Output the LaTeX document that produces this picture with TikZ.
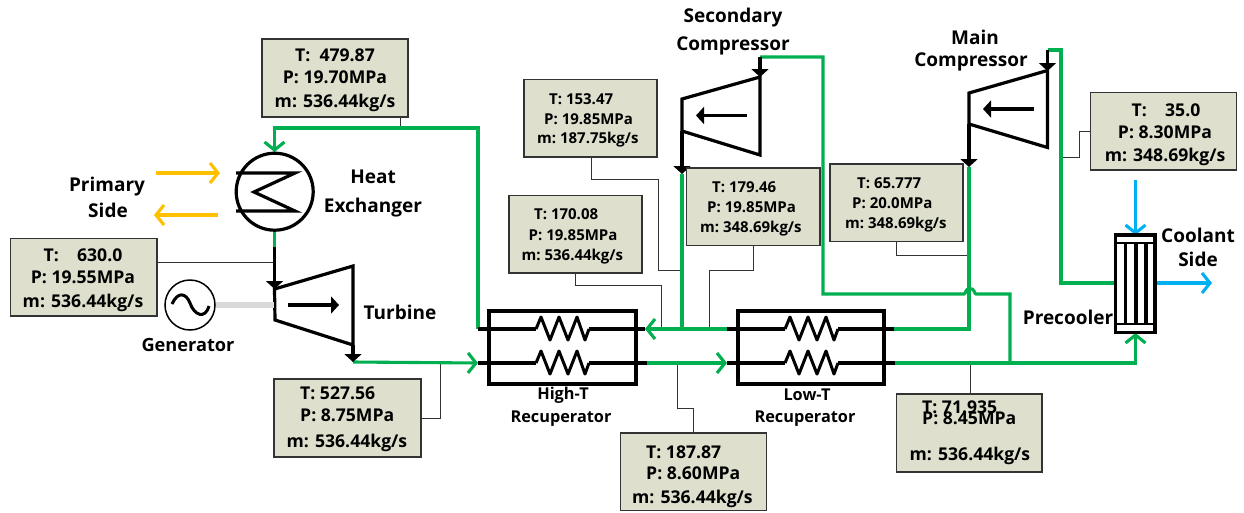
\documentclass[tikz,border=0pt]{standalone}
\usepackage{fontspec}
\setmainfont{Open Sans}
\usetikzlibrary{arrows.meta}
\definecolor{pipegreen}{HTML}{00B050}
\definecolor{hotyellow}{HTML}{FFC000}
\definecolor{coolblue}{HTML}{00B0F0}
\definecolor{boxfill}{HTML}{DEE0CD}
\definecolor{leadgray}{HTML}{333333}
\tikzset{
  green pipe/.style={draw=pipegreen,line width=3.1pt,line join=miter},
  black pipe/.style={draw=black,line width=3.2pt,line join=miter},
  leader/.style={draw=leadgray,line width=1pt},
  statebox/.style={draw=leadgray,fill=boxfill,line width=1.2pt,inner sep=0pt,outer sep=0pt},
  biglabel/.style={font=\fontsize{19}{19}\selectfont\bfseries,inner sep=0pt},
  genlabel/.style={font=\fontsize{18.2}{18}\selectfont\bfseries,inner sep=0pt},
  midlabel/.style={font=\fontsize{16.3}{16}\selectfont\bfseries,inner sep=0pt},
  bigval/.style={font=\fontsize{17.6}{17}\selectfont\bfseries,inner sep=0pt},
  smallval/.style={font=\fontsize{15}{15}\selectfont\bfseries,inner sep=0pt},
  barb/.style={-{Straight Barb[length=8pt,width=20pt,line width=3.1pt]}},
  blackhead/.style={-{Triangle[length=8pt,width=17pt]}},
}
\newcommand{\stbox}[5]{\node[statebox,minimum width=#4pt-#2pt,minimum height=#5pt-#3pt] (#1) at ({(#2+#4)/2},{(#3+#5)/2}) {};}
\newcommand{\zigzag}[3]{% name, x start, y
  \draw[black pipe,line width=3pt,line join=round] (#2,#3) -- ++(5,-12) -- ++(9,23) -- ++(9,-23) -- ++(9,23) -- ++(9,-23) -- ++(8,23) -- ++(4,-11);
}
\begin{document}
\begin{tikzpicture}[x=1pt,y=-1pt]
\useasboundingbox (0,0) rectangle (1244,512);
\fill[white] (0,0) rectangle (1244,512);

% junction points
\coordinate (hxin) at (274.5,128);
\coordinate (hxtop) at (274.5,152);
\coordinate (hxbot) at (274.5,231);
\coordinate (tbinpipe) at (274.5,247);
\coordinate (tbin) at (274.5,289);
\coordinate (tbout) at (353,345);
\coordinate (tboutend) at (353,362);
\coordinate (htoutA) at (478,329);
\coordinate (htinB) at (478,363);
\coordinate (htrightA) at (645,329);
\coordinate (htrightB) at (647,363);
\coordinate (ltleftA) at (727,329);
\coordinate (ltleftB) at (727,363);
\coordinate (ltrightA) at (894,329);
\coordinate (ltrightB) at (895,363);
\coordinate (scoutJ) at (682,329);
\coordinate (mcoutJ) at (969,329);
\coordinate (scdel) at (760,57);
\coordinate (mcdel) at (1047.5,50);
\coordinate (pcin) at (1115.5,283);
\coordinate (pcout) at (1155,283);
\coordinate (pcbot) at (1135.5,333);
\coordinate (pctop) at (1135.5,235);
\coordinate (teeB) at (1010,363);

% leaders
\draw[leader] (400,117) -- (400,128);
\draw[leader] (157,262) -- (274,262);
\draw[leader] (591,157) |- (658.7,179.5) -- (658.7,270) -- (682,270);
\draw[leader] (575.7,273) |- (661,285) -- (661,329);
\draw[leader] (753,245.5) |- (709,270) -- (709,329);
\draw[leader] (896,242) |- (969,255);
\draw[leader] (1091,131) -| (1079,157) -- (1061,157);
\draw[leader] (440,363) |- (421,418);
\draw[leader] (677,363) |- (693.7,408) -- (693.7,433);
\draw[leader] (970,363) -- (970,394);

% green pipes
\draw[green pipe] (htoutA) -- (478,128) -- (hxin) -- (274.5,145);
\draw[green pipe,barb] (274.5,135) -- (hxtop);
\draw[green pipe] (hxbot) -- (tbinpipe);
\draw[green pipe,barb] (tboutend) -- (htinB);
\draw[green pipe,barb] (htrightB) -- (ltleftB);
\draw[green pipe,barb] (ltleftA) -- (htrightA);
\draw[green pipe] (ltrightA) -- (mcoutJ) -- (969,167);
\draw[green pipe] (scoutJ) -- (682,174);
\draw[green pipe] (ltrightB) -- (1135.5,363) -- (1135.5,345);
\draw[green pipe,barb] (1135.5,363) -- (pcbot);
\draw[green pipe] (scdel) -- (823,57) -- (823,294) -- (964,294) .. controls (966,294) and (965,288.5) .. (970,288.5) .. controls (975,288.5) and (974,294) .. (976,294) -- (1010,294) -- (teeB);
\draw[green pipe] (mcdel) -- (1061,50) -- (1061,283) -- (pcin);

% blue and yellow streams
\draw[draw=coolblue,line width=3.1pt,barb] (1135.5,180) -- (pctop);
\draw[draw=coolblue,line width=3.1pt,barb] (pcout) -- (1212,283);
\draw[draw=hotyellow,line width=3.1pt,barb] (156,173) -- (220,173);
\draw[draw=hotyellow,line width=3.1pt,barb] (218,215) -- (154,215);

% heat exchanger
\node[circle,draw=black,line width=3.2pt,minimum size=77pt,inner sep=0pt,outer sep=0pt] (hx) at (274.7,191.7) {};
\draw[black pipe] (236,173) -- (295,173) -- (254,192) -- (295,211) -- (236,211);

% turbine
\draw[black pipe] (tbin) -- (353,266) -- (353,345) -- (275,320) -- cycle;
\draw[black pipe,blackhead] (tbinpipe) -- (tbin);
\draw[black pipe,blackhead] (tbout) -- (tboutend);
\draw[black pipe,blackhead] (288,305) -- (339,305);

% generator
\draw[draw=black!15,line width=6pt] (216,305) -- (274,305);
\node[circle,draw=black,line width=1.5pt,fill=white,minimum size=50pt,inner sep=0pt] (gen) at (190,305) {};
\draw[black,line width=3pt] (172,304) .. controls (178,291) and (186,293) .. (190,303) .. controls (194,315) and (205,320) .. (209,306);

% recuperators
\draw[black pipe] (489,311) rectangle (636,384);
\draw[black pipe] (738,311) rectangle (884,384);
\draw[black pipe] (htoutA) -- (536,329); \draw[black pipe] (589,329) -- (htrightA);
\draw[black pipe] (htinB) -- (536,363); \draw[black pipe] (589,363) -- (htrightB);
\draw[black pipe] (ltleftA) -- (785,329); \draw[black pipe] (838,329) -- (ltrightA);
\draw[black pipe] (ltleftB) -- (785,363); \draw[black pipe] (838,363) -- (ltrightB);
\zigzag{a}{536}{329}
\zigzag{b}{536}{363}
\zigzag{c}{785}{329}
\zigzag{d}{785}{363}

% compressors
\draw[black pipe] (682,99) -- (760,77) -- (760,155) -- (682,131) -- cycle;
\draw[black pipe,blackhead] (scdel) -- (760,77);
\draw[black pipe,blackhead] (682,131) -- (682,174);
\draw[black pipe,blackhead] (747,115.5) -- (696,115.5);
\draw[black pipe] (969,93) -- (1047.5,70.5) -- (1047.5,147.5) -- (969,124) -- cycle;
\draw[black pipe,blackhead] (mcdel) -- (1047.5,71);
\draw[black pipe,blackhead] (969,124) -- (969,167);
\draw[black pipe,blackhead] (1034,109) -- (983,109);

% precooler
\draw[black pipe,line width=1.5pt] (1116,243) -- (1155,243) (1116,324) -- (1155,324);
\draw[black pipe] (1125.7,243) -- (1125.7,324) (1136,243) -- (1136,324) (1146,243) -- (1146,324);
\draw[black pipe] (1115.7,235) rectangle (1155,332.7);

% state boxes
\stbox{b1}{262}{39}{408}{117}
\node[bigval] (b1t) at (335,55) {T:\ \ 479.87};
\node[bigval] (b1p) at (335,77) {P: 19.70MPa};
\node[bigval] (b1m) at (335,103) {m: 536.44kg/s};

\stbox{b2}{10.5}{238.5}{157}{316}
\node[bigval] (b2t) at (83,255) {T:\ \ \ \ 630.0};
\node[bigval] (b2p) at (83,277) {P: 19.55MPa};
\node[bigval] (b2m) at (83,303) {m: 536.44kg/s};

\stbox{b3}{524}{79.7}{657}{157}
\node[smallval,anchor=west] (b3t) at (549,99) {T:\ 153.47};
\node[smallval,anchor=west] (b3p) at (544,119) {P:\ 19.85MPa};
\node[smallval,anchor=west] (b3m) at (537,140) {m:\ 187.75kg/s};

\stbox{b4}{509}{195.5}{642}{273}
\node[smallval,anchor=west] (b4t) at (534,214) {T:\ 170.08};
\node[smallval,anchor=west] (b4p) at (528.5,235) {P:\ 19.85MPa};
\node[smallval,anchor=west] (b4m) at (521.5,257) {m:\ 536.44kg/s};

\stbox{b5}{686.5}{168}{820}{245.5}
\node[smallval,anchor=west] (b5t) at (712,187) {T:\ 179.46};
\node[smallval,anchor=west] (b5p) at (707,207) {P:\ 19.85MPa};
\node[smallval,anchor=west] (b5m) at (700,229) {m:\ 348.69kg/s};

\stbox{b6}{830}{164}{963}{241.7}
\node[smallval,anchor=west] (b6t) at (857,183) {T:\ 65.777};
\node[smallval,anchor=west] (b6p) at (852,203) {P:\ 20.0MPa};
\node[smallval,anchor=west] (b6m) at (845,225) {m:\ 348.69kg/s};

\stbox{b7}{1090.7}{92.7}{1236.7}{170}
\node[bigval] (b7t) at (1166,110) {T:\ \ \ \ 35.0};
\node[bigval] (b7p) at (1165,132) {P: 8.30MPa};
\node[bigval] (b7m) at (1165,157) {m: 348.69kg/s};

\stbox{b8}{274}{379}{421}{457}
\node[bigval,anchor=west] (b8t) at (300,393) {T: 527.56};
\node[bigval,anchor=west] (b8p) at (300,415) {P: 8.75MPa};
\node[bigval,anchor=west] (b8m) at (286.5,443) {m: 536.44kg/s};

\stbox{b9}{620.7}{433}{766.6}{510.7}
\node[bigval,anchor=west] (b9t) at (646,452) {T: 187.87};
\node[bigval,anchor=west] (b9p) at (646,473) {P: 8.60MPa};
\node[bigval,anchor=west] (b9m) at (632,499) {m: 536.44kg/s};

\stbox{b10}{896.7}{394}{1042}{472}
\node[bigval,anchor=west] (b10t) at (922,407) {T: 71.935};
\node[bigval,anchor=west] (b10p) at (922,418) {P: 8.45MPa};
\node[bigval,anchor=west] (b10m) at (909.5,456) {m: 536.44kg/s};

% labels
\node[biglabel] (l1) at (107,187) {Primary};
\node[biglabel] (l2) at (108,210) {Side};
\node[biglabel] (l3) at (373,177) {Heat};
\node[biglabel] (l4) at (373,208) {Exchanger};
\node[biglabel] (l5) at (400,312) {Turbine};
\node[genlabel] (l6) at (188,345) {Generator};
\node[biglabel] (l7) at (733,18) {Secondary};
\node[biglabel] (l8) at (733,46) {Compressor};
\node[biglabel] (l9) at (975,37) {Main};
\node[biglabel] (l10) at (971,62) {Compressor};
\node[biglabel] (l11) at (1198,235) {Coolant};
\node[biglabel] (l12) at (1198,259) {Side};
\node[biglabel] (l13) at (1068,317) {Precooler};
\node[midlabel] (l14) at (563,395) {High-T};
\node[midlabel] (l15) at (561,419) {Recuperator};
\node[midlabel] (l16) at (807,395) {Low-T};
\node[midlabel] (l17) at (805,419) {Recuperator};
\end{tikzpicture}
\end{document}
